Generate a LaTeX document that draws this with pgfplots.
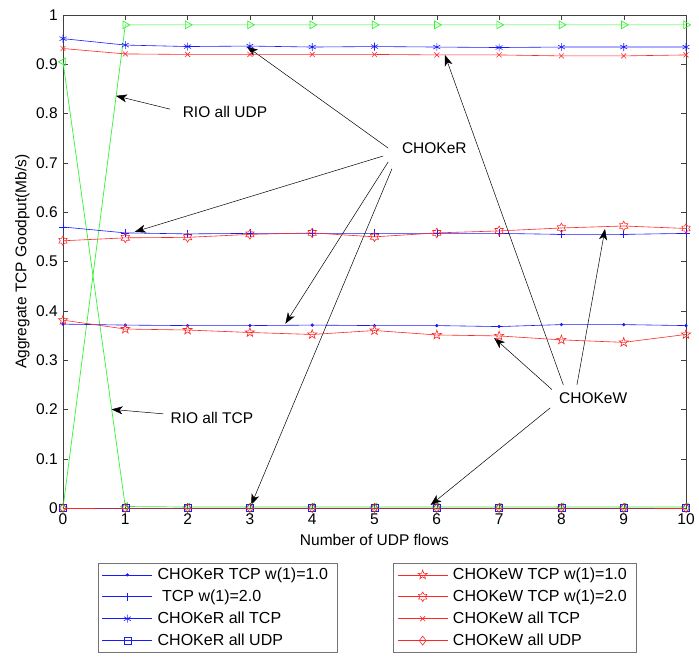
\documentclass[border=0pt]{standalone}
\usepackage{pgfplots}
\pgfplotsset{compat=1.18}
\usepackage{pgfplotstable}
\usepackage{fontspec}
\setmainfont{Liberation Sans}
\usetikzlibrary{arrows.meta,plotmarks}

\pgfdeclareplotmark{pentagram}{%
  \pgfpathmoveto{\pgfpointpolar{90}{\pgfplotmarksize}}%
  \pgfpathlineto{\pgfpointpolar{126}{0.40*\pgfplotmarksize}}%
  \pgfpathlineto{\pgfpointpolar{162}{\pgfplotmarksize}}%
  \pgfpathlineto{\pgfpointpolar{198}{0.40*\pgfplotmarksize}}%
  \pgfpathlineto{\pgfpointpolar{234}{\pgfplotmarksize}}%
  \pgfpathlineto{\pgfpointpolar{270}{0.40*\pgfplotmarksize}}%
  \pgfpathlineto{\pgfpointpolar{306}{\pgfplotmarksize}}%
  \pgfpathlineto{\pgfpointpolar{342}{0.40*\pgfplotmarksize}}%
  \pgfpathlineto{\pgfpointpolar{18}{\pgfplotmarksize}}%
  \pgfpathlineto{\pgfpointpolar{54}{0.40*\pgfplotmarksize}}%
  \pgfpathclose\pgfusepathqstroke}
\pgfdeclareplotmark{hexagram}{%
  \pgfpathmoveto{\pgfpointpolar{90}{\pgfplotmarksize}}%
  \pgfpathlineto{\pgfpointpolar{120}{0.577*\pgfplotmarksize}}%
  \pgfpathlineto{\pgfpointpolar{150}{\pgfplotmarksize}}%
  \pgfpathlineto{\pgfpointpolar{180}{0.577*\pgfplotmarksize}}%
  \pgfpathlineto{\pgfpointpolar{210}{\pgfplotmarksize}}%
  \pgfpathlineto{\pgfpointpolar{240}{0.577*\pgfplotmarksize}}%
  \pgfpathlineto{\pgfpointpolar{270}{\pgfplotmarksize}}%
  \pgfpathlineto{\pgfpointpolar{300}{0.577*\pgfplotmarksize}}%
  \pgfpathlineto{\pgfpointpolar{330}{\pgfplotmarksize}}%
  \pgfpathlineto{\pgfpointpolar{0}{0.577*\pgfplotmarksize}}%
  \pgfpathlineto{\pgfpointpolar{30}{\pgfplotmarksize}}%
  \pgfpathlineto{\pgfpointpolar{60}{0.577*\pgfplotmarksize}}%
  \pgfpathclose\pgfusepathqstroke}

\pgfplotstableread{
x rA rB rC rD wA wB wC wD gU gT
0 0.373 0.570 0.952 0 0.381 0.542 0.932 0 0 0.905
1 0.371 0.558 0.939 0 0.363 0.548 0.921 0 0.980 0.003
2 0.370 0.556 0.936 0 0.361 0.549 0.920 0 0.980 0.002
3 0.370 0.557 0.937 0 0.356 0.555 0.920 0 0.980 0.002
4 0.371 0.557 0.935 0 0.352 0.558 0.920 0 0.980 0.002
5 0.370 0.557 0.936 0 0.360 0.550 0.920 0 0.980 0.002
6 0.370 0.557 0.935 0 0.351 0.558 0.919 0 0.980 0.002
7 0.368 0.557 0.934 0 0.349 0.562 0.919 0 0.980 0.002
8 0.372 0.555 0.935 0 0.341 0.568 0.917 0 0.980 0.002
9 0.372 0.555 0.935 0 0.336 0.572 0.917 0 0.980 0.002
10 0.370 0.557 0.935 0 0.352 0.567 0.919 0 0.980 0.002
}\data

\definecolor{mblue}{rgb}{0.1,0.1,1}
\definecolor{mred}{rgb}{1,0.15,0.15}
\definecolor{mgreen}{rgb}{0.2,0.95,0.2}

\pgfplotsset{
  common/.style={
    at={(63bp,150bp)}, anchor=south west,
    width=623bp, height=493bp, scale only axis,
    xmin=0, xmax=10, ymin=0, ymax=1,
    clip=false,
  },
  mylegend/.style={
    legend style={at={(#1,-0.112)}, anchor=north west, draw=black!55,
      fill=white, row sep=5bp, inner xsep=4pt, inner ysep=3bp,
      nodes={inner ysep=1.5pt, inner xsep=5bp, font=\fontsize{16bp}{18bp}\selectfont}},
    legend cell align=left,
    legend image code/.code={\draw[mark repeat=2,mark phase=2,##1]
      plot coordinates {(0bp,0bp) (25bp,0bp) (50bp,0bp)};},
  },
}

\begin{document}
\fontsize{15.5bp}{18bp}\selectfont
\begin{tikzpicture}
\path[use as bounding box] (0,0) rectangle (699bp,658bp);
\begin{axis}[common, mylegend=0.056,
  axis line style={black!75},
  every tick/.style={black!75},
  major tick length=5bp,
  xtick={0,...,10}, ytick={0,0.1,...,1},
  yticklabel style={/pgf/number format/fixed,/pgf/number format/precision=1},
  /pgf/number format/assume math mode=true,
  xlabel={Number of UDP flows},
  ylabel={Aggregate TCP Goodput(Mb/s)},
  xlabel style={yshift=1bp},
  ylabel style={yshift=-4bp},
]
\addplot[mgreen, line width=0.7pt, mark=triangle, mark size=4.5bp, mark options={rotate=-90}, forget plot] table[x=x,y=gU] {\data};
\addplot[mgreen, line width=0.7pt, mark=triangle, mark size=4.5bp, mark options={rotate=90}, forget plot] table[x=x,y=gT] {\data};
\addplot[mblue, line width=0.6pt, mark=*, mark size=1.3bp] table[x=x,y=rA] {\data};
\addlegendentry{CHOKeR TCP w(1)=1.0}
\addplot[mblue, line width=0.6pt, mark=+, mark size=4bp] table[x=x,y=rB] {\data};
\addlegendentry{\ TCP w(1)=2.0}
\addplot[mblue, line width=0.6pt, mark=asterisk, mark size=4bp] table[x=x,y=rC] {\data};
\addlegendentry{CHOKeR all TCP}
\addplot[mblue, line width=0.6pt, mark=square, mark size=3.5bp] table[x=x,y=rD] {\data};
\addlegendentry{CHOKeR all UDP}

\node at (axis cs:2.60,0.803) {RIO all UDP};
\node at (axis cs:2.39,0.183) {RIO all TCP};
\node at (axis cs:5.96,0.730) {CHOKeR};
\node at (axis cs:8.51,0.223) {CHOKeW};
\begin{scope}[black, line width=0.5pt, -{Stealth[length=11bp,width=8bp,inset=3bp]}]
\draw (axis cs:1.72,0.809) -- (axis cs:0.85,0.836);
\draw (axis cs:1.61,0.191) -- (axis cs:0.78,0.200);
\draw (axis cs:5.22,0.730) -- (axis cs:2.95,0.936);
\draw (axis cs:5.14,0.714) -- (axis cs:1.15,0.560);
\draw (axis cs:5.22,0.702) -- (axis cs:3.57,0.374);
\draw (axis cs:5.28,0.688) -- (axis cs:3.02,0.006);
\draw (axis cs:8.03,0.250) -- (axis cs:6.13,0.919);
\draw (axis cs:8.25,0.250) -- (axis cs:8.70,0.566);
\draw (axis cs:7.85,0.240) -- (axis cs:6.92,0.345);
\draw (axis cs:7.82,0.203) -- (axis cs:5.90,0.006);
\end{scope}
\end{axis}
\begin{axis}[common, mylegend=0.53, hide axis]
\addplot[mred, line width=0.6pt, mark=pentagram, mark size=4.8bp] table[x=x,y=wA] {\data};
\addlegendentry{CHOKeW TCP w(1)=1.0}
\addplot[mred, line width=0.6pt, mark=hexagram, mark size=4.8bp] table[x=x,y=wB] {\data};
\addlegendentry{CHOKeW TCP w(1)=2.0}
\addplot[mred, line width=0.6pt, mark=x, mark size=3.5bp] table[x=x,y=wC] {\data};
\addlegendentry{CHOKeW all TCP}
\addplot[mred, line width=0.6pt, mark=diamond, mark size=4.5bp] table[x=x,y=wD] {\data};
\addlegendentry{CHOKeW all UDP}
\end{axis}
\end{tikzpicture}
\end{document}
